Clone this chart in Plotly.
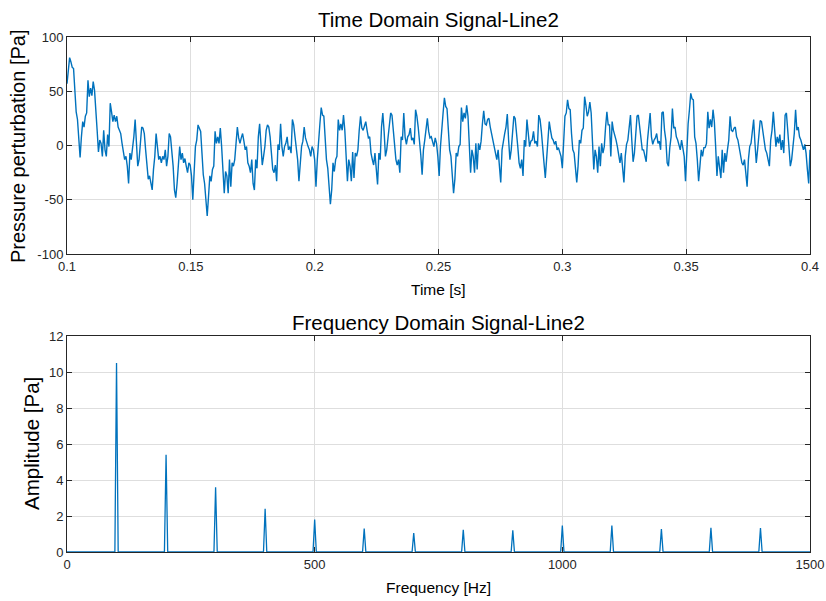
import plotly.graph_objects as go

seg1 = [57, 69, 81, 77, 72, 71, 54, 31, 24, 5, -11, 8, 22, 17, 27, 30, 60, 45, 53, 46,
        59, 51, 36, 14, -6, 5, 2, -10, 14, -4, -10, 10, -1, 39, 31, 22, 28, 22, 27, 17,
        14, 11, 2, -7, -13, -10, -19, -35, -7, -13, -4, 8, 24, -1, -19, -13, -1, 17, 16, 11,
        -4, -16, -31, -28, -35, -41, -22, -10, 11, -4, -13, -10, -16, -10, -13, -4, -19, -10, 11, 8,
        -4, -19, -41, -48, -35, -16, -1, -13, -7, -16, -12, -19, -25, -16, -18, -28, -50, -25, -1]
seg2 = [5, 19, 16, 13, -7, -27, -35, -47, -65, -47, -28, -33, -22, -19, 13, 2, 8, 2, 16, -1,
        -22, -44, -24, -28, -44, -13, -38, -16, -19, -13, 2, 17, 7, 2, 7, 11, 4, -4, -1, -16,
        -19, -25, -13, -35, -41, -13, -21, 8, 20, 5, -18, -10, -1, 14, 19, 17, 8, -7, -22, -25,
        -18, -33, 1, -4, 20, -1, -10, -1, 2, 8, -4, -1, -7, 24, 19, 8, -1, -13, -33, -13,
        -1, 4, 17, 7, 2, -1, -4, -10, -1, -4, -13, -38, -13, 8]
seg3 = [20, 35, 28, 27, 5, -13, -21, -35, -54, -41, -16, -24, -13, -10, 24, 14, 20, 14, 28, 14,
        -10, -33, -13, -19, -33, -6, -30, -7, -10, -4, 14, 27, 16, 14, 18, 22, 14, 7, 8, -7,
        -13, -18, -7, -25, -36, -7, -13, 17, 30, 13, -10, -4, 7, 22, 30, 28, 16, 4, -13, -18,
        -13, -25, 8, 5, 30, 8, 1, 8, 10, 16, 5, 7, 1, 33, 27, 17, 5, -9, -27, -4,
        5, 16, 25, 13, 7, 8, 4, -1, 7, 2, -10, -28, -1, 20]
seg4 = [30, 44, 36, 34, 14, -4, -10, -25, -44, -31, -7, -10, -1, 1, 35, 22, 30, 25, 37, 27,
        2, -25, -4, -10, -25, 2, -22, 2, -4, 4, 20, 32, 20, 19, 24, 25, 17, 11, 5, -1,
        -10, -13, -4, -16, -34, -4, 5, 11, 17, 29, 5, -13, -4, 13, 27, 25, 14, -1, -16, -21,
        -13, -28, 5, -1, 24, 8, -1, 4, 5, 13, 2, 4, -1, 28, 24, 13, 1, -16, -30, -10,
        2, 22, 14, 7, 5, 1, 4, -4, -2, -7, -10, -21, 2, 27]
seg5 = [30, 42, 34, 33, 11, -4, -7, -19, -34, -19, 5, 2, 14, 16, 45, 37, 27, 31, 40, 30,
        8, -22, -4, -10, -25, -1, -19, 2, -7, -1, 17, 31, 19, 19, -10, 22, 14, 10, 5, -1,
        -10, -16, -7, -19, -34, -10, 1, 5, 14, 28, 5, -15, -7, 11, 27, 28, 17, 11, -4, -4,
        -10, -15, 5, 19, 30, 8, 1, 5, 7, 11, 2, 4, -4, 30, 31, 14, 5, -16, -19, -2,
        8, 34, 16, 17, 8, 5, 1, -4, 5, -4, -10, -33, -4, 20]
seg6 = [33, 48, 43, 42, 8, 2, -13, -33, -19, -4, -10, -2, -2, 2, 31, 16, 24, 17, 33, 22,
        -1, -28, -10, -19, -30, -4, -25, -7, -15, -4, 5, 27, 14, 13, 16, 17, 8, 5, -1, -7,
        -16, -18, -13, -25, -38, -13, -1, 2, 11, 24, 2, -16, -4, 11, 23, 22, 14, 2, -4, -7,
        -13, -19, 5, 14, 31, 11, -1, 8, 2, 10, -4, 5, -7, 28, 30, 14, -1, -19, -13, -1,
        11, 33, 14, 17, 8, 5, 1, -4, 1, -7, -22, -35, -4]
t_start, t_end = 0.1, 0.4

# ---- Frequency-domain spectrum (Pa) ----
harmonics_hz = [100, 200, 300, 400, 500, 600, 700, 800, 900, 1000, 1100, 1200, 1300, 1400]
amplitudes = [10.5, 5.4, 3.6, 2.4, 1.8, 1.3, 1.05, 1.23, 1.2, 1.47, 1.47, 1.27, 1.34, 1.33]
freq_res = 1 / 0.3  # Hz, bin spacing
f_max = 1500

# ---- Axis ticks ----
t_ticks = [0.1, 0.15, 0.2, 0.25, 0.3, 0.35, 0.4]
t_ticktext = ["0.1", "0.15", "0.2", "0.25", "0.3", "0.35", "0.4"]
p_ticks = [-100, -50, 0, 50, 100]
p_ticktext = ["-100", "-50", "0", "50", "100"]
f_ticks = [0, 500, 1000, 1500]
a_ticks = [0, 2, 4, 6, 8, 10, 12]

# build arrays
signal = seg1 + seg2 + seg3 + seg4 + seg5 + seg6
n = len(signal)
time = [t_start + (t_end - t_start) * i / (n - 1) for i in range(n)]

freq = [0.0]
amp = [0.0]
for f, a in zip(harmonics_hz, amplitudes):
    freq += [f - freq_res, f, f + freq_res]
    amp += [0.0, a, 0.0]
freq.append(f_max)
amp.append(0.0)

BLUE = "#0072BD"
AX = "#262626"
GRID = "#dedede"
FONT = "Liberation Sans, Arial, Helvetica, sans-serif"

fig = go.Figure()
fig.add_trace(go.Scatter(x=time, y=signal, mode="lines",
                         line=dict(color=BLUE, width=1.4), xaxis="x", yaxis="y",
                         showlegend=False, hoverinfo="skip"))
fig.add_trace(go.Scatter(x=freq, y=amp, mode="lines",
                         line=dict(color=BLUE, width=1.3), xaxis="x2", yaxis="y2",
                         showlegend=False, hoverinfo="skip"))

W, H = 826, 601
px_x = lambda p: p / W
px_y = lambda p: 1 - p / H

axis_common = dict(showline=True, linecolor=AX, linewidth=1, mirror="allticks",
                   ticks="inside", ticklen=5, tickcolor=AX, showgrid=True,
                   gridcolor=GRID, gridwidth=1, zeroline=False, automargin=False,
                   tickfont=dict(family=FONT, size=13, color=AX))

fig.update_layout(
    width=W, height=H,
    margin=dict(l=0, r=0, t=0, b=0),
    paper_bgcolor="white", plot_bgcolor="white",
    xaxis=dict(domain=[px_x(67), px_x(810)], range=[t_start, t_end],
               tickvals=t_ticks, ticktext=t_ticktext, anchor="y", **axis_common),
    yaxis=dict(domain=[px_y(254), px_y(37)], range=[-100, 100],
               tickvals=p_ticks, ticktext=p_ticktext, anchor="x", **axis_common),
    xaxis2=dict(domain=[px_x(67), px_x(810)], range=[0, f_max],
                tickvals=f_ticks, anchor="y2", **axis_common),
    yaxis2=dict(domain=[px_y(552), px_y(336)], range=[0, 12],
                tickvals=a_ticks, anchor="x2", **axis_common),
)

ann = [
    dict(text="Time Domain Signal-Line2", x=438.5, y=20, size=20.5, angle=0),
    dict(text="Time [s]", x=438.5, y=289, size=15.5, angle=0),
    dict(text="Pressure perturbation [Pa]", x=18, y=147, size=20, angle=-90),
    dict(text="Frequency Domain Signal-Line2", x=438.5, y=322, size=20.5, angle=0),
    dict(text="Frequency [Hz]", x=438.5, y=587, size=15.5, angle=0),
    dict(text="Amplitude [Pa]", x=31, y=444, size=20.5, angle=-90),
]
for a in ann:
    fig.add_annotation(text=a["text"], x=px_x(a["x"]), y=px_y(a["y"]),
                       xref="paper", yref="paper", xanchor="center", yanchor="middle",
                       showarrow=False, textangle=a["angle"],
                       font=dict(family=FONT, size=a["size"], color="#000000"))

fig.write_html("out.html")
